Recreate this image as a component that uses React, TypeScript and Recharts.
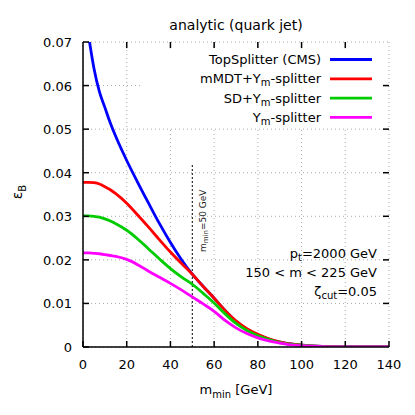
import { LineChart, Line, XAxis, YAxis, CartesianGrid, ReferenceLine } from "recharts";

const mMin = [0, 2.5, 5, 7.5, 10, 12.5, 15, 20, 25, 30, 35, 40, 45, 50, 55, 60, 65, 70, 75, 80, 85, 90, 95, 100, 110, 120, 130, 140];

const topSplitter = [0.079, 0.0715, 0.064, 0.0586, 0.055, 0.0514, 0.0483, 0.0428, 0.0378, 0.033, 0.0283, 0.024, 0.0201, 0.0167, 0.0139, 0.0112, 0.0084, 0.0059, 0.0041, 0.0028, 0.0018, 0.0011, 0.0007, 0.0004, 0.00012, 0.00003, 0, 0];
const mmdtSplitter = [0.0378, 0.0378, 0.0377, 0.0374, 0.0368, 0.0361, 0.0352, 0.033, 0.0303, 0.0275, 0.0246, 0.0218, 0.0192, 0.0167, 0.0139, 0.0112, 0.0084, 0.006, 0.0042, 0.0029, 0.0019, 0.0012, 0.0007, 0.0004, 0.00012, 0.00003, 0, 0];
const sdSplitter = [0.0301, 0.0301, 0.03, 0.0298, 0.0294, 0.0289, 0.0283, 0.0268, 0.0248, 0.0225, 0.0202, 0.018, 0.0161, 0.0144, 0.0123, 0.0101, 0.0076, 0.0054, 0.0038, 0.0026, 0.0017, 0.001, 0.0006, 0.0004, 0.0001, 0.00003, 0, 0];
const ymSplitter = [0.0216, 0.0216, 0.0215, 0.0214, 0.0212, 0.021, 0.0208, 0.0201, 0.0189, 0.0174, 0.016, 0.0146, 0.0131, 0.0115, 0.0099, 0.0082, 0.0061, 0.0044, 0.0031, 0.0021, 0.0014, 0.0009, 0.0005, 0.0003, 0.0001, 0.00003, 0, 0];

const xTicks = [0, 20, 40, 60, 80, 100, 120, 140];
const yTicks = [0, 0.01, 0.02, 0.03, 0.04, 0.05, 0.06, 0.07];

const series = [
  { key: "top", name: "TopSplitter (CMS)", color: "#0000ff" },
  { key: "mmdt", name: "mMDT+Y", sub: "m", tail: "-splitter", color: "#ff0000" },
  { key: "sd", name: "SD+Y", sub: "m", tail: "-splitter", color: "#00cc00" },
  { key: "ym", name: "Y", sub: "m", tail: "-splitter", color: "#ff00ff" },
];

const data = mMin.map((m, i) => ({
  m,
  top: topSplitter[i],
  mmdt: mmdtSplitter[i],
  sd: sdSplitter[i],
  ym: ymSplitter[i],
}));

const FONT = "'DejaVu Sans', sans-serif";
const TICK = 6;
const TICK_W = 1.5;

// mirrored ticks on top/right, as data-space lengths (~6px)
const X_TICK_LEN = 0.0014;
const Y_TICK_LEN = 2.75;

const fmtY = (v: number) => (v === 0 ? "0" : v.toFixed(2));

// gnuplot-style inward ticks; tickSize/tickMargin are 0 so x/y is on the axis line
function BottomTick({ x, y, payload }: any) {
  return (
    <g>
      <path d={`M${x},${y}V${y - TICK}`} stroke="#000" strokeWidth={TICK_W} fill="none" />
      <text x={x} y={y + 22} textAnchor="middle" fontSize={13} fontFamily={FONT} fill="#000">
        {payload.value}
      </text>
    </g>
  );
}

function LeftTick({ x, y, payload }: any) {
  return (
    <g>
      <path d={`M${x},${y}H${x + TICK}`} stroke="#000" strokeWidth={TICK_W} fill="none" />
      <text x={x - 11} y={y + 5} textAnchor="end" fontSize={13} fontFamily={FONT} fill="#000">
        {fmtY(payload.value)}
      </text>
    </g>
  );
}

const axisLine = { stroke: "#000", strokeWidth: 1.5 };

function App() {
  const innerX = xTicks.slice(1, -1);
  const innerY = yTicks.slice(1, -1);
  return (
    <div style={{ position: "absolute", left: 0, top: 0, width: 415, height: 415, background: "#fff" }}>
      <LineChart width={415} height={415} data={data} margin={{ top: 42, right: 26, bottom: 38, left: 0 }}>
        <CartesianGrid stroke="#aaa" strokeDasharray="1 3" />
        <XAxis
          dataKey="m"
          type="number"
          domain={[0, 140]}
          ticks={xTicks}
          height={30}
          tickLine={false}
          tickSize={0}
          tickMargin={0}
          axisLine={axisLine}
          tick={<BottomTick />}
        />
        <XAxis xAxisId="top" orientation="top" type="number" domain={[0, 140]} ticks={xTicks} height={0} tickLine={false} tick={false} axisLine={axisLine} />
        <YAxis
          type="number"
          domain={[0, 0.07]}
          ticks={yTicks}
          allowDataOverflow
          width={83}
          tickLine={false}
          tickSize={0}
          tickMargin={0}
          axisLine={axisLine}
          tick={<LeftTick />}
        />
        <YAxis yAxisId="right" orientation="right" type="number" domain={[0, 0.07]} ticks={yTicks} width={0} tickLine={false} tick={false} axisLine={axisLine} />
        {innerX.map((t) => (
          <ReferenceLine key={`xt${t}`} segment={[{ x: t, y: 0.07 }, { x: t, y: 0.07 - X_TICK_LEN }]} stroke="#000" strokeWidth={TICK_W} />
        ))}
        {innerY.map((t) => (
          <ReferenceLine key={`yr${t}`} segment={[{ x: 140, y: t }, { x: 140 - Y_TICK_LEN, y: t }]} stroke="#000" strokeWidth={TICK_W} />
        ))}
        <ReferenceLine
          segment={[{ x: 50, y: 0 }, { x: 50, y: 0.0418 }]}
          stroke="#000"
          strokeDasharray="2 2"
        />
        {series.map((s) => (
          <Line
            key={s.key}
            dataKey={s.key}
            type="monotone"
            stroke={s.color}
            strokeWidth={2.8}
            dot={false}
            isAnimationActive={false}
          />
        ))}
      </LineChart>
      <svg
        width={415}
        height={415}
        style={{ position: "absolute", left: 0, top: 0, pointerEvents: "none" }}
        fontFamily={FONT}
      >
        <text x={236} y={30} textAnchor="middle" fontSize={14}>analytic (quark jet)</text>
        <text transform="translate(22,192) rotate(-90)" textAnchor="middle" fontSize={14}>
          ε<tspan fontSize={10} dy={4}>B</tspan>
        </text>
        <text x={236} y={394} textAnchor="middle" fontSize={13}>
          m<tspan fontSize={10} dy={4}>min</tspan>
          <tspan dy={-4}> [GeV]</tspan>
        </text>

        <rect x={140} y={50} width={242} height={77} fill="#fff" />
        {series.map((s, i) => {
          const y = 59.5 + i * 19.3;
          return (
            <g key={s.key}>
              <text x={321} y={y + 4.5} textAnchor="end" fontSize={13}>
                {s.name}
                {s.sub && <tspan fontSize={10} dy={3}>{s.sub}</tspan>}
                {s.tail && <tspan dy={-3}>{s.tail}</tspan>}
              </text>
              <line x1={330} x2={372} y1={y} y2={y} stroke={s.color} strokeWidth={2.8} />
            </g>
          );
        })}

        <text x={377} y={258} textAnchor="end" fontSize={13}>
          p<tspan fontSize={10} dy={3}>t</tspan>
          <tspan dy={-3}>=2000 GeV</tspan>
        </text>
        <text x={377} y={277} textAnchor="end" fontSize={13}>150 &lt; m &lt; 225 GeV</text>
        <text x={377} y={296} textAnchor="end" fontSize={13}>
          ζ<tspan fontSize={10} dy={3}>cut</tspan>
          <tspan dy={-3}>=0.05</tspan>
        </text>

        <text transform="translate(206,252) rotate(-90)" fontSize={9} fill="#222">
          m<tspan fontSize={7} dy={2}>min</tspan>
          <tspan dy={-2}>=50 GeV</tspan>
        </text>
      </svg>
    </div>
  );
}

export default App;
